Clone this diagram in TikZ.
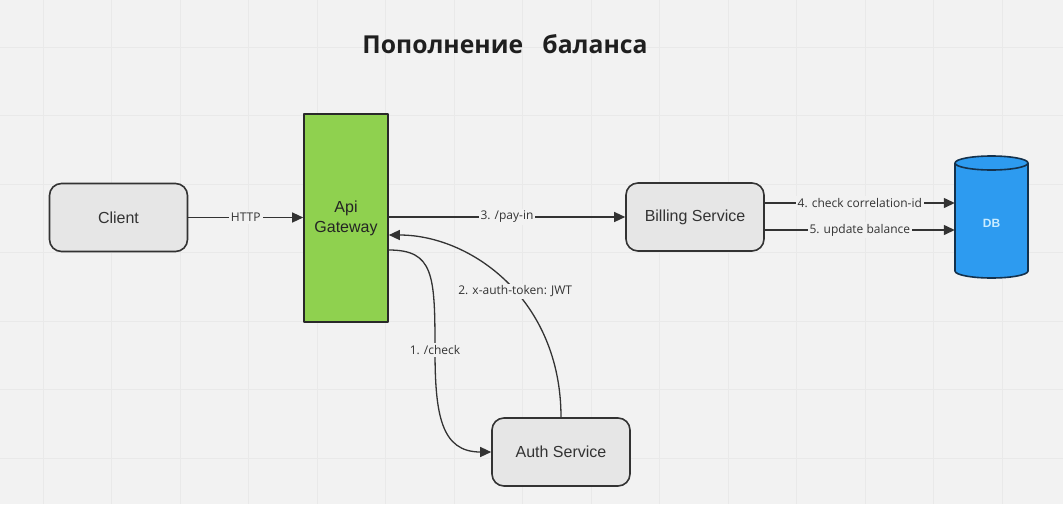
\documentclass[tikz,border=0pt]{standalone}
\usepackage{fontspec}
\setmainfont{Liberation Sans}
\newfontfamily\opensans{Open Sans}
\usepackage{tikz}
\usetikzlibrary{arrows.meta}
\definecolor{bgclr}{HTML}{F2F2F2}
\definecolor{gridclr}{HTML}{E9E9E9}
\definecolor{boxclr}{HTML}{E6E6E6}
\definecolor{lineclr}{HTML}{333333}
\definecolor{gwgreen}{HTML}{8FD14F}
\definecolor{dbblue}{HTML}{2D9BF0}
\definecolor{dbedge}{HTML}{14324D}
\definecolor{dbtext}{HTML}{C9ECFF}
\tikzset{
  service/.style={draw=lineclr,line width=1.6pt,fill=boxclr,rounded corners=12pt,minimum width=138pt,minimum height=68pt,font=\fontsize{16}{19}\selectfont,text=lineclr},
  conn/.style={->,line width=1.3pt,color=lineclr},
  lbl/.style={fill=bgclr,inner sep=2pt,font=\opensans\fontsize{12}{14}\selectfont,text=lineclr}
}
\begin{document}
\begin{tikzpicture}[line cap=butt,line join=round,>={Triangle[length=11pt,width=10pt]},x=1pt,y=-1pt]
            \fill [bgclr] (0,0) rectangle (1063,504);
            \useasboundingbox (0,0) rectangle (1063,504);
            \foreach \i in {0,...,14}
              \draw [gridclr,line width=0.7pt] (43+68.5*\i,0) -- (43+68.5*\i,504);
            \foreach \j in {0,...,6}
              \draw [gridclr,line width=0.7pt] (0,47+68.5*\j) -- (1063,47+68.5*\j);
            \node (title) [anchor=base,text=lineclr!60!black,font=\opensans\bfseries\fontsize{24.7}{28}\selectfont] at (505,53) {Пополнение\ \ \ баланса};
            \node (client) [service] at (118.5,217.5) {Client};
            \node (gateway) [draw=lineclr!80!black,line width=1.6pt,fill=gwgreen,minimum width=84pt,minimum height=208pt,align=center,text=lineclr!70!black,font=\fontsize{16}{20}\selectfont] at (346,218) {Api\\Gateway};
            \node (billing) [service] at (695,217) {Billing Service};
            \node (auth) [service] at (561,452) {Auth Service};
            % DB cylinder
            \draw [draw=dbedge,line width=1.6pt,fill=dbblue] (955,163) -- (955,271) arc[start angle=180,end angle=0,x radius=36.5,y radius=7] -- (1028,163) arc[start angle=0,end angle=-180,x radius=36.5,y radius=7] -- cycle;
            \draw [draw=dbedge,line width=1.6pt] (955,163) arc[start angle=180,end angle=0,x radius=36.5,y radius=7];
            \node (db) [minimum width=73pt,inner sep=0pt,text=dbtext,font=\bfseries\fontsize{12}{14}\selectfont] at (991.5,223) {DB};
            \coordinate (chk) at (435,350);
            \draw [conn] (client.east) -- (client.east -| gateway.west) node [lbl,midway]{HTTP};
            \draw [conn] (billing.west -| gateway.east) -- (billing.west) node [lbl,midway]{3. /pay-in};
            \draw [conn] ([yshift=14pt]billing.east) -- ([yshift=14pt]billing.east -| db.west) node [lbl,midway]{4. check correlation-id};
            \draw [conn] ([yshift=-13pt]billing.east) -- ([yshift=-13pt]billing.east -| db.west) node [lbl,midway]{5. update balance};
            \draw [conn] ([yshift=-32pt]gateway.east) .. controls +(45,0) and +(0,-75) .. (chk) node [lbl,pos=1]{1. /check} .. controls +(0,65) and +(-50,0) .. (auth.west);
            \draw [conn] (auth.north) .. controls +(0,-118) and +(82,0) .. ([yshift=-17pt]gateway.east) node [lbl,pos=0.45]{2. x-auth-token: JWT};
\end{tikzpicture}
\end{document}
